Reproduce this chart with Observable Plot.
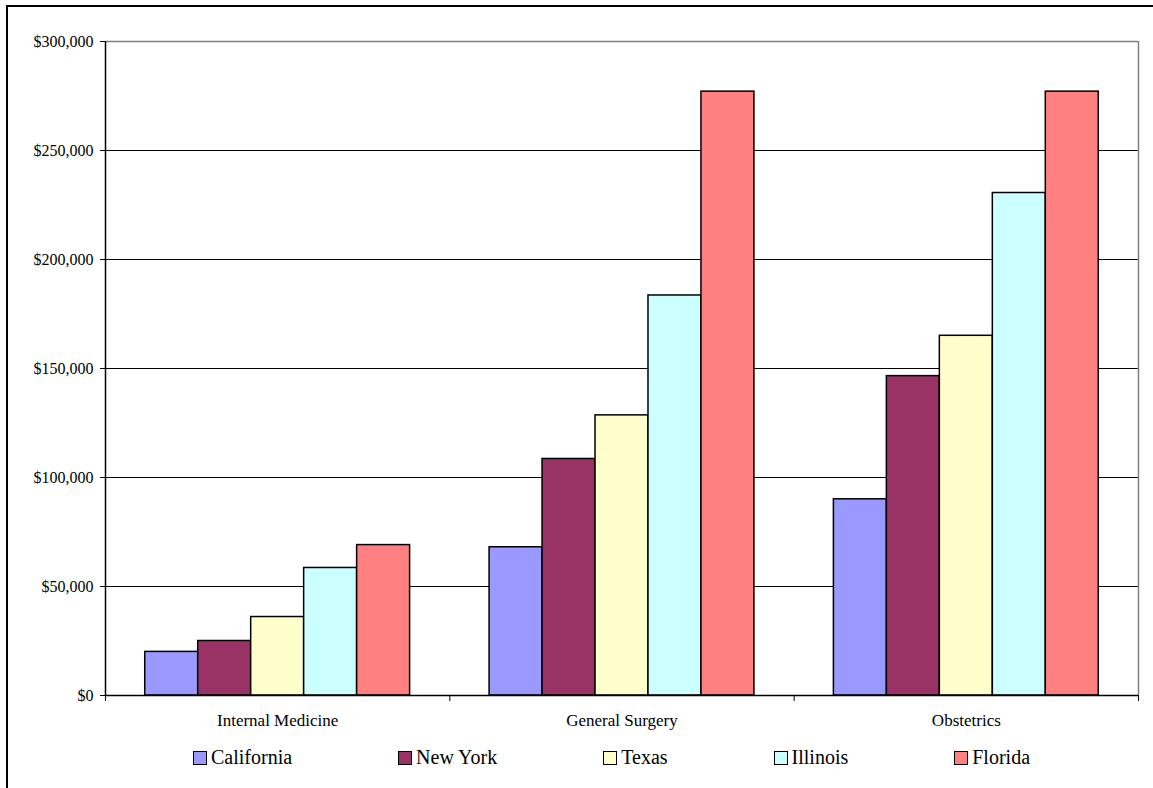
<!DOCTYPE html>
<html>
<head>
<meta charset="utf-8">
<script src="https://cdn.jsdelivr.net/npm/d3@7"></script>
<script src="https://cdn.jsdelivr.net/npm/@observablehq/plot@0.6"></script>
<style>
  html, body { margin: 0; padding: 0; background: #fff; }
  body { width: 1153px; height: 788px; position: relative; overflow: hidden; font-family: 'Liberation Serif', 'Times New Roman', Times, serif; }
  #frame { position: absolute; left: 6px; top: 5px; width: 1200px; height: 800px; border-left: 2px solid #000; border-top: 2px solid #000; box-sizing: border-box; pointer-events: none; }
  #chart { position: absolute; left: 0; top: 0; }
  #chart text { font-family: 'Liberation Serif', 'Times New Roman', Times, serif; }
  #legend { position: absolute; left: 193px; top: 746px; display: flex; gap: 106px; font-size: 20px; color: #000; white-space: nowrap; }
  .item { display: flex; align-items: center; }
  .sw { width: 12px; height: 12px; border: 1.5px solid #000; margin-right: 4px; }
</style>
</head>
<body>
<div id="chart"></div>
<div id="legend"></div>
<div id="frame"></div>
<script>
// Data
const categories = ["Internal Medicine", "General Surgery", "Obstetrics"];
const states = ["California", "New York", "Texas", "Illinois", "Florida"];
const colors = ["#9999FF", "#993366", "#FFFFCC", "#CCFFFF", "#FF8080"];
const california = [20000, 68000, 90000];
const newYork = [25000, 108500, 146500];
const texas = [36000, 128500, 165000];
const illinois = [58500, 183500, 230500];
const florida = [69000, 277000, 277000];
const yTicks = [0, 50000, 100000, 150000, 200000, 250000, 300000];

const seriesValues = [california, newYork, texas, illinois, florida];
const rows = [];
categories.forEach((c, ci) => {
  states.forEach((s, si) => {
    rows.push({category: c, ci, state: s, si, value: seriesValues[si][ci]});
  });
});

const groupSlots = states.length + 1.5; // 0.75 slot padding each side
const fmt = d => "$" + d3.format(",")(d);

const plot = Plot.plot({
  width: 1153,
  height: 740,
  marginLeft: 105,
  marginRight: 15,
  marginTop: 41,
  marginBottom: 45,
  style: {fontFamily: "'Liberation Serif', 'Times New Roman', serif", fontSize: "16px", color: "#000", background: "transparent"},
  x: {domain: [0, categories.length], label: null},
  y: {domain: [0, 300000], label: null},
  color: {domain: states, range: colors},
  marks: [
    Plot.ruleY(yTicks.slice(1, -1), {stroke: "#000", strokeWidth: 1}),
    Plot.ruleY([300000], {stroke: "#808080", strokeWidth: 1.5}),
    Plot.ruleX([categories.length], {stroke: "#808080", strokeWidth: 1.5}),
    Plot.rectY(rows, {
      x1: d => d.ci + (0.75 + d.si) / groupSlots,
      x2: d => d.ci + (1.75 + d.si) / groupSlots,
      y1: 0,
      y2: "value",
      fill: "state",
      stroke: "#000",
      strokeWidth: 1.5
    }),
    Plot.ruleX([0], {stroke: "#000", strokeWidth: 1.5}),
    Plot.ruleY([0], {stroke: "#000", strokeWidth: 1.5}),
    Plot.axisY({ticks: yTicks, tickFormat: fmt, tickSize: 5, tickPadding: 7, label: null, stroke: "#000", fontSize: 16}),
    Plot.axisX({ticks: d3.range(categories.length + 1), tickSize: 6, tickFormat: () => "", label: null}),
    Plot.axisX({ticks: categories.map((c, i) => i + 0.5), tickSize: 0, tickPadding: 18, tickFormat: v => categories[Math.floor(v)], label: null, fontSize: 17})
  ]
});
document.getElementById("chart").appendChild(plot);

const legend = document.getElementById("legend");
states.forEach((s, i) => {
  const item = document.createElement("div");
  item.className = "item";
  const sw = document.createElement("div");
  sw.className = "sw";
  sw.style.background = colors[i];
  const label = document.createElement("span");
  label.textContent = s;
  item.appendChild(sw);
  item.appendChild(label);
  legend.appendChild(item);
});
</script>
</body>
</html>
